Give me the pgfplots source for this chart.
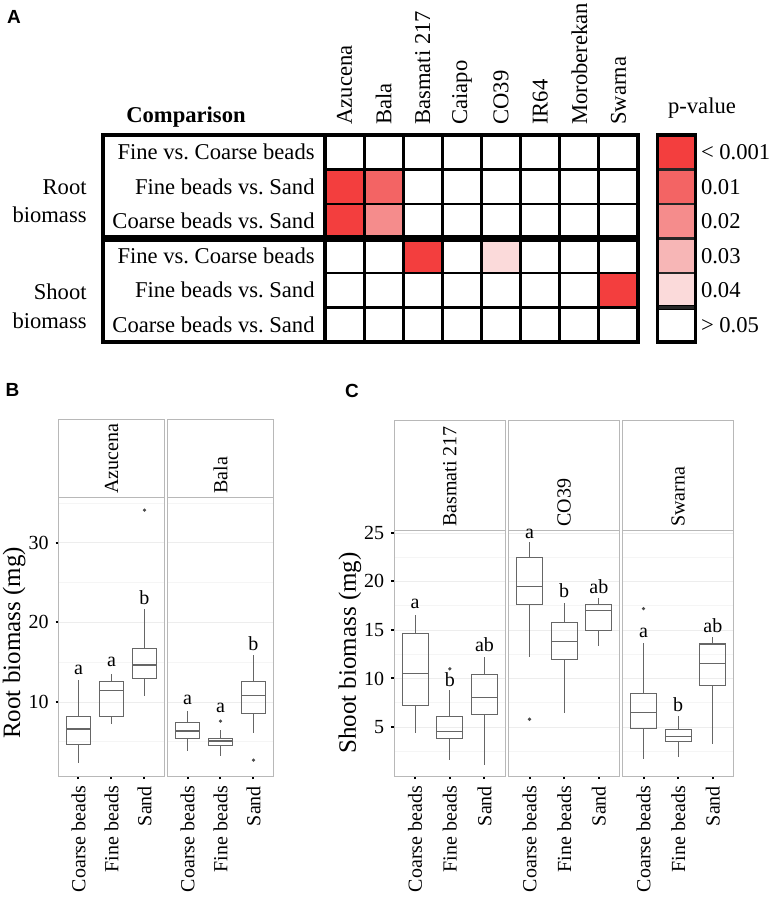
\documentclass[border=0pt]{standalone}
\usepackage{fontspec}
\setmainfont{Liberation Serif}
\setsansfont{Liberation Sans}
\usepackage{pgfplots}
\usepackage{pgfplotstable}
\pgfplotsset{compat=1.18}
\usepgfplotslibrary{statistics}

\newcommand\fA{\fontsize{11.3}{13}\selectfont}
\newcommand\fT{\fontsize{10}{12}\selectfont}
\newcommand\fY{\fontsize{12.5}{15}\selectfont}
\newcommand\fP{\fontsize{9.5}{11}\selectfont\sffamily\bfseries}

% p-value level per cell: 0 = >0.05 ... 5 = <0.001
\pgfplotstableread{
x y c
0 0 0
1 0 0
2 0 0
3 0 0
4 0 0
5 0 0
6 0 0
7 0 0
0 1 5
1 1 4
2 1 0
3 1 0
4 1 0
5 1 0
6 1 0
7 1 0
0 2 5
1 2 3
2 2 0
3 2 0
4 2 0
5 2 0
6 2 0
7 2 0
0 3 0
1 3 0
2 3 5
3 3 0
4 3 1
5 3 0
6 3 0
7 3 0
0 4 0
1 4 0
2 4 0
3 4 0
4 4 0
5 4 0
6 4 0
7 4 5
0 5 0
1 5 0
2 5 0
3 5 0
4 5 0
5 5 0
6 5 0
7 5 0
}\heat

\pgfplotstableread{
x y c
0 0 5
1 0 5
0 1 4
1 1 4
0 2 3
1 2 3
0 3 2
1 3 2
0 4 1
1 4 1
0 5 0
1 5 0
}\pkey

\pgfplotsset{
  pcolors/.style={
    colormap={pval}{rgb255=(255,255,255) rgb255=(251,218,218) rgb255=(247,182,182)
      rgb255=(245,140,140) rgb255=(243,100,100) rgb255=(243,62,62)},
    point meta min=0, point meta max=5},
  facet/.style={scale only axis, xmin=0.4, xmax=3.6, clip=false,
    axis line style={black!28, line width=0.5pt},
    xtick={1,2,3}, xticklabels={Coarse beads,Fine beads,Sand},
    xticklabel style={rotate=90, anchor=east, font=\fT},
    yticklabel style={font=\fT},
    tick pos=left, tick align=outside,
    major tick length=1.5pt, minor tick length=0pt,
    tick style={black, line width=1pt},
    ymajorgrids, yminorgrids,
    major grid style={black!7, line width=0.4pt},
    minor grid style={black!4, line width=0.3pt},
    /pgf/number format/assume math mode=true,
    boxplot/draw direction=y,
    boxplot/box extend=0.75, boxplot/whisker extend=0},
  bx/.style={draw=black!60, line width=0.55pt, solid, mark=*, mark size=0.5pt,
    mark options={draw=black!70, fill=black!70}},
}

\begin{document}
\frenchspacing
\begin{tikzpicture}
\path[use as bounding box] (0pt,0pt) rectangle (386.5pt,-453pt);

% ---------- panel A ----------
\node[font=\fP] at (7pt,-8.5pt) {A};
\node[font=\fA\bfseries] at (93pt,-58.5pt) {Comparison};
\node[font=\fA] at (351pt,-54pt) {p-value};
\node[font=\fA, anchor=east, inner sep=0pt] at (43.5pt,-93.5pt) {Root};
\node[font=\fA, anchor=east, inner sep=0pt] at (43.5pt,-107.5pt) {biomass};
\node[font=\fA, anchor=east, inner sep=0pt] at (43.5pt,-146pt) {Shoot};
\node[font=\fA, anchor=east, inner sep=0pt] at (43.5pt,-160.5pt) {biomass};

\begin{axis}[
  at={(162.5pt,-171pt)}, anchor=south west,
  scale only axis, width=156.5pt, height=103.5pt,
  xmin=-0.5, xmax=7.5, ymin=-0.5, ymax=5.5, y dir=reverse,
  pcolors, axis on top, clip=false,
  xtick={0,...,7},
  xticklabels={Azucena,Bala,Basmati 217,Caiapo,CO39,IR64,Moroberekan,Swarna},
  xticklabel pos=upper,
  xticklabel style={rotate=90, anchor=west, font=\fA, inner xsep=5pt},
  ytick={0,...,5},
  yticklabels={Fine vs. Coarse beads,Fine beads vs. Sand,Coarse beads vs. Sand,
    Fine vs. Coarse beads,Fine beads vs. Sand,Coarse beads vs. Sand},
  yticklabel style={font=\fA, inner xsep=5pt},
  major tick length=0pt, minor tick length=0pt,
  minor xtick={0.5,1.5,...,6.5}, minor ytick={0.5,1.5,...,4.5},
  xminorgrids, yminorgrids,
  minor grid style={black, line width=1.4pt},
  axis line style={black, line width=1.6pt},
]
\addplot[matrix plot, mesh/cols=8, point meta=explicit] table[x=x, y=y, meta=c] {\heat};
\draw[line width=1.6pt] (axis cs:-6.174,-0.5) rectangle (axis cs:-0.5,5.5);
\draw[line width=3.4pt] (axis cs:-6.174,2.5) -- (axis cs:7.5,2.5);
\end{axis}

\begin{axis}[
  at={(328.8pt,-171pt)}, anchor=south west,
  scale only axis, width=19pt, height=103.5pt,
  xmin=-0.5, xmax=1.5, ymin=-0.5, ymax=5.5, y dir=reverse,
  pcolors, axis on top,
  xtick=\empty,
  ytick={0,...,5},
  yticklabels={< 0.001,0.01,0.02,0.03,0.04,> 0.05},
  yticklabel pos=right,
  yticklabel style={font=\fA, inner xsep=2.5pt},
  major tick length=0pt, minor tick length=0pt,
  minor ytick={0.5,1.5,...,4.5}, yminorgrids,
  minor grid style={black!85, line width=1.2pt},
  axis line style={black, line width=1.6pt},
]
\addplot[matrix plot, mesh/cols=2, point meta=explicit] table[x=x, y=y, meta=c] {\pkey};
\draw[line width=2.4pt] (axis cs:-0.5,4.5) -- (axis cs:1.5,4.5);
\end{axis}

% ---------- panel B ----------
\node[font=\fP] at (6.25pt,-195pt) {B};

\begin{axis}[facet, at={(29.35pt,-388pt)}, anchor=south west,
  width=52.8pt, height=139.5pt, ymin=0.7, ymax=35.75,
  ytick={10,20,30}, minor ytick={5,15,25,35}]
\draw[black!28, line width=0.5pt, fill=white] (rel axis cs:0,1) rectangle (rel axis cs:1,1.276);
\node[rotate=90, anchor=west, font=\fT, inner sep=1.5pt] at (rel axis cs:0.5,1) {Azucena};
\addplot[bx, boxplot prepared={draw position=1, lower whisker=2.3, lower quartile=4.7,
  median=6.6, upper quartile=8.2, upper whisker=12.7}] coordinates {};
\addplot[bx, boxplot prepared={draw position=2, lower whisker=7.2, lower quartile=8.2,
  median=11.4, upper quartile=12.6, upper whisker=13.5}] coordinates {};
\addplot[bx, boxplot prepared={draw position=3, lower whisker=10.8, lower quartile=12.9,
  median=14.65, upper quartile=16.7, upper whisker=21.7}] table[row sep=\\, y index=0] {34.1\\};
\node[font=\fT] at (axis cs:1,14.0) {a};
\node[font=\fT] at (axis cs:2,15.0) {a};
\node[font=\fT] at (axis cs:3,23.1) {b};
\node[rotate=90, font=\fY] at (rel axis cs:-0.423,0.477) {Root biomass (mg)};
\end{axis}

\begin{axis}[facet, at={(83.85pt,-388pt)}, anchor=south west,
  width=52.8pt, height=139.5pt, ymin=0.7, ymax=35.75,
  ytick={10,20,30}, minor ytick={5,15,25,35},
  yticklabels={}, ytick style={draw=none}]
\draw[black!28, line width=0.5pt, fill=white] (rel axis cs:0,1) rectangle (rel axis cs:1,1.276);
\node[rotate=90, anchor=west, font=\fT, inner sep=1.5pt] at (rel axis cs:0.5,1) {Bala};
\addplot[bx, boxplot prepared={draw position=1, lower whisker=3.9, lower quartile=5.4,
  median=6.35, upper quartile=7.45, upper whisker=8.9}] coordinates {};
\addplot[bx, boxplot prepared={draw position=2, lower whisker=3.25, lower quartile=4.5,
  median=5.1, upper quartile=5.45, upper whisker=6.5}] table[row sep=\\, y index=0] {7.6\\};
\addplot[bx, boxplot prepared={draw position=3, lower whisker=6.05, lower quartile=8.6,
  median=10.8, upper quartile=12.55, upper whisker=15.9}] table[row sep=\\, y index=0] {2.7\\};
\node[font=\fT] at (axis cs:1,10.3) {a};
\node[font=\fT] at (axis cs:2,9.2) {a};
\node[font=\fT] at (axis cs:3,17.3) {b};
\end{axis}

% ---------- panel C ----------
\node[font=\fP] at (176pt,-195.5pt) {C};

\begin{axis}[facet, at={(197.15pt,-388pt)}, anchor=south west,
  width=55.5pt, height=123pt, ymin=-0.05, ymax=25.3,
  ytick={5,10,15,20,25}, minor ytick={2.5,7.5,12.5,17.5,22.5}]
\draw[black!28, line width=0.5pt, fill=white] (rel axis cs:0,1) rectangle (rel axis cs:1,1.447);
\node[rotate=90, anchor=west, font=\fT, inner sep=1.5pt] at (rel axis cs:0.5,1) {Basmati 217};
\addplot[bx, boxplot prepared={draw position=1, lower whisker=4.4, lower quartile=7.25,
  median=10.5, upper quartile=14.6, upper whisker=16.5}] coordinates {};
\addplot[bx, boxplot prepared={draw position=2, lower whisker=1.55, lower quartile=3.8,
  median=4.55, upper quartile=6.05, upper whisker=8.8}] table[row sep=\\, y index=0] {11.0\\};
\addplot[bx, boxplot prepared={draw position=3, lower whisker=1.1, lower quartile=6.3,
  median=8.05, upper quartile=10.45, upper whisker=12.2}] coordinates {};
\node[font=\fT] at (axis cs:1,17.7) {a};
\node[font=\fT] at (axis cs:2,9.9) {b};
\node[font=\fT] at (axis cs:3,13.45) {ab};
\node[rotate=90, font=\fY] at (rel axis cs:-0.399,0.5) {Shoot biomass (mg)};
\end{axis}

\begin{axis}[facet, at={(254.35pt,-388pt)}, anchor=south west,
  width=55.5pt, height=123pt, ymin=-0.05, ymax=25.3,
  ytick={5,10,15,20,25}, minor ytick={2.5,7.5,12.5,17.5,22.5},
  yticklabels={}, ytick style={draw=none}]
\draw[black!28, line width=0.5pt, fill=white] (rel axis cs:0,1) rectangle (rel axis cs:1,1.447);
\node[rotate=90, anchor=west, font=\fT, inner sep=1.5pt] at (rel axis cs:0.5,1) {CO39};
\addplot[bx, boxplot prepared={draw position=1, lower whisker=12.2, lower quartile=17.65,
  median=19.5, upper quartile=22.5, upper whisker=24.1}] table[row sep=\\, y index=0] {5.8\\};
\addplot[bx, boxplot prepared={draw position=2, lower whisker=6.45, lower quartile=12.0,
  median=13.8, upper quartile=15.75, upper whisker=17.75}] coordinates {};
\addplot[bx, boxplot prepared={draw position=3, lower whisker=13.3, lower quartile=14.9,
  median=17.05, upper quartile=17.65, upper whisker=18.3}] coordinates {};
\node[font=\fT] at (axis cs:1,24.9) {a};
\node[font=\fT] at (axis cs:2,19.1) {b};
\node[font=\fT] at (axis cs:3,19.5) {ab};
\end{axis}

\begin{axis}[facet, at={(311.35pt,-388pt)}, anchor=south west,
  width=55.5pt, height=123pt, ymin=-0.05, ymax=25.3,
  ytick={5,10,15,20,25}, minor ytick={2.5,7.5,12.5,17.5,22.5},
  yticklabels={}, ytick style={draw=none}]
\draw[black!28, line width=0.5pt, fill=white] (rel axis cs:0,1) rectangle (rel axis cs:1,1.447);
\node[rotate=90, anchor=west, font=\fT, inner sep=1.5pt] at (rel axis cs:0.5,1) {Swarna};
\addplot[bx, boxplot prepared={draw position=1, lower whisker=1.7, lower quartile=4.8,
  median=6.45, upper quartile=8.45, upper whisker=13.7}] table[row sep=\\, y index=0] {17.2\\};
\addplot[bx, boxplot prepared={draw position=2, lower whisker=1.95, lower quartile=3.5,
  median=4.05, upper quartile=4.7, upper whisker=6.15}] coordinates {};
\addplot[bx, boxplot prepared={draw position=3, lower whisker=3.2, lower quartile=9.3,
  median=11.5, upper quartile=13.55, upper whisker=14.3}] coordinates {};
\node[font=\fT] at (axis cs:1,14.7) {a};
\node[font=\fT] at (axis cs:2,7.35) {b};
\node[font=\fT] at (axis cs:3,15.4) {ab};
\end{axis}
\end{tikzpicture}
\end{document}
